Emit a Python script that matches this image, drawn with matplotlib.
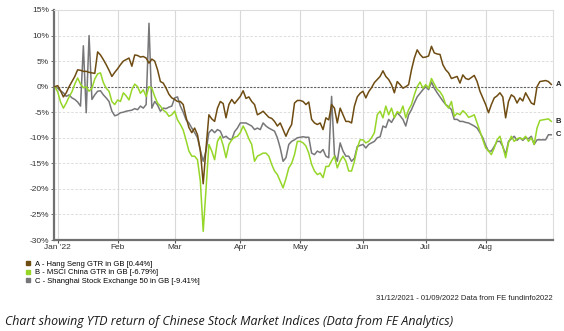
import matplotlib.pyplot as plt
from matplotlib.lines import Line2D
import numpy as np
import pandas as pd

# business days 31/12/2021 .. 01/09/2022
dates = pd.bdate_range("2021-12-31", "2022-09-01")

month_labels = ["Jan '22", "Feb", "Mar", "Apr", "May", "Jun", "Jul", "Aug"]
month_starts = ["2022-01-01", "2022-02-01", "2022-03-01", "2022-04-01",
                "2022-05-01", "2022-06-01", "2022-07-01", "2022-08-01"]

# A - Hang Seng GTR in GB (%)
hang_seng = [
    0, 0.2, -0.8, -2.0, -1.2, 0.0, 1.0, 2.0, 3.3, 3.2,
    3.0, 3.0, 2.8, 2.7, 2.6, 6.8, 6.2, 5.3, 4.3, 3.2,
    2.0, 2.8, 3.5, 4.3, 5.0, 5.3, 5.6, 4.0, 6.2, 6.1,
    5.8, 5.9, 5.6, 4.6, 5.4, 5.0, 3.3, 1.0, 0.7, -0.3,
    -1.5, -2.2, -2.5, -2.9, -2.9, -3.5, -6.0, -8.0, -9.0, -8.1,
    -9.4, -12.5, -19.0, -12.0, -5.5, -6.3, -6.8, -4.2, -2.9, -3.3,
    -6.1, -3.5, -2.5, -3.3, -2.6, -1.9, -0.8, -2.3, -2.0, -2.9,
    -3.5, -5.5, -5.2, -4.8, -5.4, -6.0, -6.2, -6.8, -7.7, -7.1,
    -8.4, -9.7, -8.4, -7.4, -3.2, -2.7, -2.7, -2.9, -3.5, -3.0,
    -6.4, -7.1, -7.4, -7.1, -8.4, -6.1, -6.5, -3.5, -4.2, -7.1,
    -4.2, -5.5, -6.8, -6.8, -7.1, -3.8, -2.0, -1.3, -0.9, -2.2,
    -1.0, -0.2, 0.8, 1.4, 2.0, 3.1, 2.0, 1.4, 0.4, -1.2,
    1.0, 0.4, -0.3, 0.0, 0.4, 3.3, 5.6, 7.2, 6.3, 5.7,
    5.8, 6.0, 7.9, 6.6, 6.4, 6.3, 4.3, 3.3, 2.7, 1.6,
    1.8, 2.0, 0.7, 2.3, 1.6, 1.4, 1.8, 2.2, 1.0, -0.9,
    -2.2, -3.5, -5.1, -3.5, -2.2, -1.8, -1.2, -2.0, -6.1, -2.9,
    -1.6, -2.0, -3.2, -2.2, -2.8, -1.2, -2.2, -3.2, -3.5, 0.0,
    1.0, 1.1, 1.2, 1.0, 0.44,
]

# B - MSCI China GTR in GB (%)
msci_china = [
    0, -1.0, -3.0, -4.2, -3.2, -2.0, -1.0, 0.5, 1.7, 0.5,
    -0.2, 0.0, -0.9, -0.3, 1.5, 2.5, 2.7, 0.8, -0.3, -0.9,
    -2.9, -3.5, -2.6, -2.9, -1.2, -1.8, -2.6, -0.6, 0.5, 0.0,
    -1.3, -0.6, -1.9, 0.0, -0.3, -1.9, -3.2, -3.8, -4.6, -5.0,
    -5.8, -5.5, -4.8, -6.5, -7.4, -8.5, -10.5, -12.6, -13.6, -13.6,
    -14.3, -18.5, -28.3, -20.0, -11.3, -12.6, -14.3, -10.7, -9.7, -11.5,
    -13.9, -11.3, -10.4, -9.9, -9.7, -9.0, -7.7, -8.8, -10.2, -11.3,
    -14.6, -13.6, -13.3, -13.0, -13.0, -13.6, -15.2, -16.5, -17.2, -18.5,
    -19.8, -18.0, -15.9, -15.0, -13.3, -10.7, -10.7, -11.0, -11.6, -13.0,
    -15.2, -16.5, -17.2, -16.9, -17.8, -15.6, -15.6, -14.5, -13.6, -15.9,
    -14.5, -13.6, -14.6, -16.5, -16.5, -14.6, -12.0, -10.4, -10.4, -11.0,
    -10.7, -10.0, -9.0, -5.5, -4.8, -6.1, -3.8, -5.5, -4.2, -6.1,
    -4.9, -5.2, -3.8, -6.1, -4.5, -3.5, -1.6, 0.0, 0.9, -0.3,
    0.4, -0.3, 1.6, 0.5, -0.5, -1.0, -1.9, -3.5, -4.2, -2.9,
    -5.8, -5.2, -5.5, -4.7, -5.2, -6.0, -5.8, -5.5, -7.1, -8.7,
    -10.4, -12.0, -12.6, -13.3, -12.0, -10.4, -9.7, -11.7, -13.9, -11.0,
    -9.7, -10.7, -10.2, -10.0, -10.3, -9.7, -10.7, -10.0, -11.3, -8.1,
    -6.6, -6.5, -6.4, -6.3, -6.79,
]

# C - Shanghai Stock Exchange 50 in GB (%)
shanghai_50 = [
    0, -0.3, -0.8, -1.2, -1.9, -1.6, -2.2, -2.5, -3.0, -3.8,
    8.0, -5.1, 10.0, -2.5, -1.6, -0.9, -0.8, -1.6, -2.2, -2.9,
    -4.8, -5.7, -5.5, -5.1, -5.0, -4.8, -4.7, -4.6, -4.3, -4.5,
    -3.8, -4.2, -3.5, 12.4, -4.2, -2.9, -3.6, -4.8, -4.2, -4.3,
    -4.0, -3.8, -2.2, -2.0, -3.8, -5.0, -6.5, -7.1, -8.1, -9.0,
    -10.0, -12.5, -14.6, -12.5, -9.0, -8.4, -9.0, -8.4, -8.7, -10.0,
    -9.7, -10.2, -10.4, -8.8, -8.1, -7.1, -7.1, -7.1, -7.4, -7.7,
    -8.4, -8.1, -8.4, -7.1, -7.7, -8.1, -8.4, -8.7, -10.0, -12.0,
    -14.6, -13.9, -11.3, -10.7, -10.4, -10.0, -9.9, -9.8, -9.9, -9.9,
    -13.0, -13.3, -12.6, -12.9, -12.3, -13.6, -13.9, -1.9, -13.3, -14.6,
    -11.0, -12.6, -13.6, -13.6, -14.6, -14.0, -11.7, -11.5, -11.3, -12.0,
    -11.3, -11.0, -10.7, -10.0, -9.8, -7.7, -8.0, -6.4, -7.0, -6.0,
    -5.1, -5.7, -6.4, -7.7, -5.5, -4.5, -3.2, -2.0, -1.3, -0.6,
    0.0, -0.6, 0.9, -0.3, -1.2, -2.0, -2.8, -3.5, -3.9, -4.5,
    -6.4, -6.4, -6.8, -6.8, -7.0, -7.1, -7.4, -7.7, -8.1, -9.0,
    -10.0, -11.5, -12.6, -12.6, -11.7, -10.7, -10.7, -11.7, -13.3, -10.7,
    -10.2, -9.7, -10.5, -10.0, -10.5, -10.0, -10.2, -9.7, -11.3, -10.4,
    -10.4, -10.4, -10.4, -9.4, -9.41,
]

series_names = ["A - Hang Seng GTR in GB [0.44%]",
                "B - MSCI China GTR in GB [-6.79%]",
                "C - Shanghai Stock Exchange 50 in GB [-9.41%]"]
series_tags = ["A", "B", "C"]
series_colors = ["#6e4c12", "#96d629", "#77777a"]

plt.rcParams['font.family'] = ['Liberation Sans', 'DejaVu Sans']

fig = plt.figure(figsize=(5.64, 3.31), dpi=100)
ax = fig.add_axes([0.0957, 0.2749, 0.8848, 0.6949])

x = np.arange(len(dates))
tick_pos = [dates.searchsorted(pd.Timestamp(m)) for m in month_starts]

# grid
for yv in range(-30, 16, 5):
    if yv != 0:
        ax.axhline(yv, color="#d8d8d8", lw=0.6, ls=(0, (3, 2)), zorder=0)
for tp in tick_pos:
    ax.axvline(tp, color="#d8d8d8", lw=0.8, zorder=0)
ax.axhline(0, color="#606060", lw=0.8, ls=(0, (2, 1.2)), zorder=1)

# draw C first, A on top
for vals, col in zip([shanghai_50, msci_china, hang_seng],
                     [series_colors[2], series_colors[1], series_colors[0]]):
    ax.plot(x, vals, color=col, lw=1.1, zorder=3)

for vals, tag in zip([hang_seng, msci_china, shanghai_50], series_tags):
    ax.annotate(tag, xy=(x[-1], vals[-1]), xytext=(3, 0), textcoords="offset points",
                va="center", ha="left", fontsize=5.5, fontweight="bold",
                color="#222222", annotation_clip=False)

ax.set_xlim(-0.3, 174.6)
ax.set_ylim(-30, 15)
ax.set_yticks(range(-30, 16, 5))
ax.set_yticklabels([f"{v}%" for v in range(-30, 16, 5)], fontsize=6, color="#333333")
ax.set_xticks(tick_pos)
ax.set_xticklabels(month_labels, fontsize=6, color="#333333")
ax.tick_params(axis="x", length=2.5, width=0.8, color="#555555", pad=0.5)
ax.tick_params(axis="y", length=2, width=0.6, color="#555555", pad=1.5)

for side in ["top", "right"]:
    ax.spines[side].set_color("#dddddd")
    ax.spines[side].set_linewidth(0.8)
for side in ["left", "bottom"]:
    ax.spines[side].set_color("#707070")
    ax.spines[side].set_linewidth(1.6)

handles = [Line2D([], [], marker="s", ls="none", color=c, markersize=3.5)
           for c in series_colors]
fig.legend(handles, series_names, loc="upper left", bbox_to_anchor=(0.041, 0.218),
           frameon=False, fontsize=5.5, handlelength=0.8, handletextpad=0.6,
           labelspacing=0.15, borderpad=0.2, borderaxespad=0)

fig.text(0.979, 0.098, "31/12/2021 - 01/09/2022 Data from FE fundinfo2022",
         ha="right", va="center", fontsize=5.5, color="#222222")
fig.text(0.009, 0.03, "Chart showing YTD return of Chinese Stock Market Indices (Data from FE Analytics)",
         ha="left", va="center", fontsize=8.9, style="italic", family="Open Sans", color="#1a1a1a")

fig.savefig("out.png", dpi=100)
